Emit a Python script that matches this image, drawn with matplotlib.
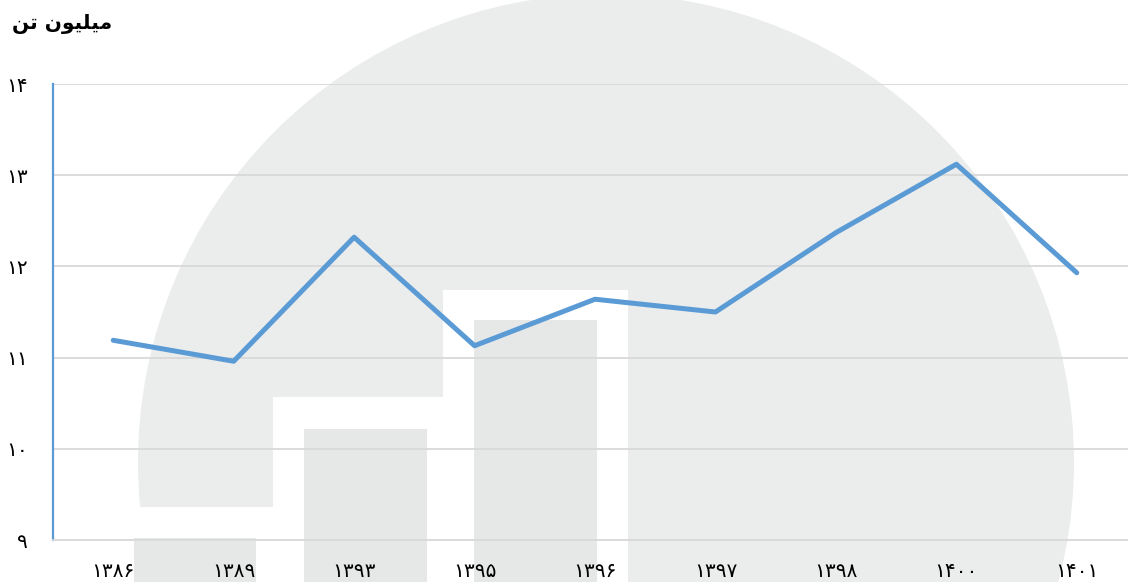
import matplotlib
matplotlib.use('Agg')
import matplotlib.pyplot as plt
from matplotlib.patches import Circle, Rectangle, Polygon

plt.rcParams['font.family'] = ['DejaVu Sans']

# ---- data ----
years = ['۱۳۸۶', '۱۳۸۹', '۱۳۹۳', '۱۳۹۵', '۱۳۹۶', '۱۳۹۷', '۱۳۹۸', '۱۴۰۰', '۱۴۰۱']
values = [11.19, 10.96, 12.32, 11.13, 11.64, 11.50, 12.37, 13.12, 11.93]
y_ticks = [9, 10, 11, 12, 13, 14]
y_tick_labels = ['۹', '۱۰', '۱۱', '۱۲', '۱۳', '۱۴']
# "میلیون تن" in shaped presentation forms, visual (left-to-right) order
title = "\uFEE6\uFE97 \uFEE5\uFEEE\uFEF4\uFEE0\uFEF4\uFEE3"

W, H = 1128, 582
fig = plt.figure(figsize=(W / 100, H / 100), dpi=100)
fig.patch.set_facecolor('white')

# ---- background watermark (decorative logo) ----
bg = fig.add_axes([0, 0, 1, 1], zorder=0)
bg.set_xlim(0, W)
bg.set_ylim(H, 0)
bg.axis('off')
bg.add_patch(Circle((606, 462), 468, fc='#ebecec', ec='none'))
bg.add_patch(Polygon([(138, H + 5), (138, 507), (273, 507), (273, 397), (443, 397),
                      (443, 290), (628, 290), (628, H + 5)], closed=True,
                     fc='white', ec='none'))
for (x0, y0, w) in [(134, 538, 122), (304, 429, 123), (474, 320, 123)]:
    bg.add_patch(Rectangle((x0, y0), w, H - y0 + 5, fc='#e6e7e7', ec='none'))

# ---- main chart ----
left, right, top, bottom = 53, 1137, 84, 540
ax = fig.add_axes([left / W, 1 - bottom / H, (right - left) / W, (bottom - top) / H], zorder=1)
ax.set_facecolor('none')
ax.plot(range(len(years)), values, color='#5b9bd5', lw=3.6,
        solid_capstyle='round', solid_joinstyle='round', zorder=3)
ax.set_xlim(-0.5, len(years) - 0.5)
ax.set_ylim(9, 14)
ax.set_yticks(y_ticks)
ax.set_yticklabels(y_tick_labels)
ax.set_xticks(range(len(years)))
ax.set_xticklabels(years)
ax.tick_params(axis='both', length=0, labelsize=14.5, colors='black')
ax.tick_params(axis='y', pad=18)
ax.tick_params(axis='x', pad=16)
ax.grid(axis='y', color='#d9d9d9', lw=1.3)
ax.grid(axis='x', visible=False)
ax.set_axisbelow(True)
for s in ['top', 'right']:
    ax.spines[s].set_visible(False)
ax.spines['bottom'].set_color('#d9d9d9')
ax.spines['bottom'].set_linewidth(1.3)
ax.spines['left'].set_color('#5b9bd5')
ax.spines['left'].set_linewidth(1.6)

fig.text(12 / W, 1 - 24 / H, title, fontsize=14.5, fontweight='bold',
         ha='left', va='center', color='black')

fig.savefig('out.png', dpi=100)
